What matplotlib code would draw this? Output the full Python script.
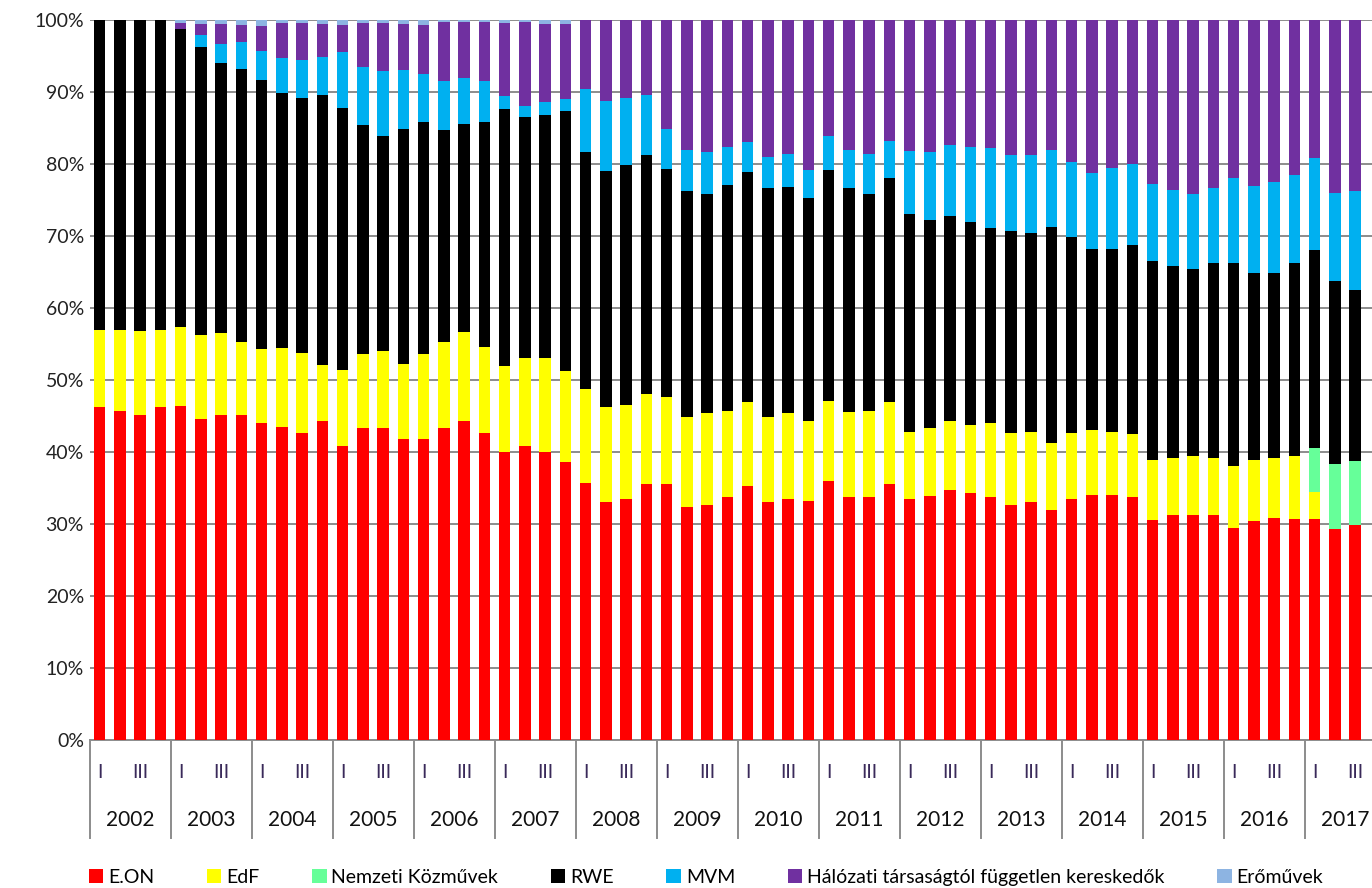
# Stacked 100% bar chart - quarterly market shares (2002 - 2017)

import matplotlib
matplotlib.use("Agg")
import matplotlib.pyplot as plt
import numpy as np
from matplotlib.patches import Patch

plt.rcParams['font.family'] = ['Lato', 'DejaVu Sans']

# years on the category axis (2017 only has three quarters of data)
years = ["2002", "2003", "2004", "2005", "2006", "2007", "2008", "2009",
         "2010", "2011", "2012", "2013", "2014", "2015", "2016", "2017"]
quarter_labels = ["I", "", "III", ""]

# shares in %, one value per quarter, 2002 Q1 ... 2017 Q3
eon = [46.2, 45.7, 45.1, 46.3, 46.4, 44.6, 45.1, 45.1, 44.0, 43.5, 42.6, 44.3,
       40.9, 43.3, 43.4, 41.8, 41.8, 43.4, 44.3, 42.6, 40.0, 40.9, 40.0, 38.6,
       35.7, 33.1, 33.5, 35.6, 35.6, 32.3, 32.6, 33.8, 35.3, 33.1, 33.5, 33.2,
       36.0, 33.8, 33.8, 35.5, 33.5, 33.9, 34.7, 34.3, 33.7, 32.6, 33.0, 31.9,
       33.5, 34.0, 34.0, 33.8, 30.6, 31.3, 31.3, 31.3, 29.4, 30.4, 30.9, 30.7,
       30.7, 29.3, 29.8]
edf = [10.8, 11.3, 11.7, 10.7, 10.9, 11.7, 11.4, 10.2, 10.3, 10.9, 11.2, 7.8,
       10.5, 10.3, 10.6, 10.4, 11.8, 11.9, 12.4, 12.0, 12.0, 12.2, 13.0, 12.6,
       13.1, 13.2, 13.0, 12.4, 12.1, 12.5, 12.8, 11.9, 11.7, 11.8, 11.9, 11.1,
       11.1, 11.8, 11.9, 11.5, 9.3, 9.4, 9.6, 9.4, 10.3, 10.0, 9.8, 9.4,
       9.2, 9.1, 8.8, 8.7, 8.3, 7.9, 8.1, 7.9, 8.7, 8.5, 8.3, 8.8,
       3.7, 0.0, 0.0]
nemzeti = [0, 0, 0, 0, 0, 0, 0, 0, 0, 0, 0, 0,
           0, 0, 0, 0, 0, 0, 0, 0, 0, 0, 0, 0,
           0, 0, 0, 0, 0, 0, 0, 0, 0, 0, 0, 0,
           0, 0, 0, 0, 0, 0, 0, 0, 0, 0, 0, 0,
           0, 0, 0, 0, 0, 0, 0, 0, 0, 0, 0, 0,
           6.1, 9.0, 8.9]
rwe = [43.0, 43.0, 43.2, 43.0, 41.5, 39.9, 37.5, 37.9, 37.3, 35.4, 35.3, 37.5,
       36.4, 31.8, 29.9, 32.7, 32.2, 29.4, 28.9, 31.2, 35.6, 33.4, 33.8, 36.2,
       32.8, 32.7, 33.4, 33.3, 31.6, 31.5, 30.5, 31.4, 31.9, 31.8, 31.4, 31.0,
       32.1, 31.1, 30.2, 31.0, 30.3, 28.9, 28.5, 28.2, 27.1, 28.1, 27.6, 30.0,
       27.1, 25.1, 25.4, 26.3, 27.6, 26.7, 26.0, 27.0, 28.1, 25.9, 25.6, 26.7,
       27.6, 25.4, 23.8]
mvm = [0, 0, 0, 0, 0, 1.7, 2.7, 3.7, 4.1, 4.9, 5.4, 5.3,
       7.7, 8.1, 9.0, 8.2, 6.7, 6.8, 6.3, 5.7, 1.8, 1.6, 1.8, 1.6,
       8.8, 9.8, 9.2, 8.3, 5.6, 5.6, 5.8, 5.3, 4.1, 4.3, 4.6, 3.9,
       4.7, 5.3, 5.5, 5.2, 8.7, 9.4, 9.8, 10.5, 11.1, 10.6, 10.8, 10.7,
       10.5, 10.5, 11.3, 11.2, 10.7, 10.5, 10.4, 10.4, 11.8, 12.1, 12.7, 12.3,
       12.8, 12.3, 13.8]
halozati = [0, 0, 0, 0, 0.8, 1.6, 2.7, 2.4, 3.5, 4.9, 5.1, 4.5,
            3.8, 6.1, 6.7, 6.4, 6.8, 8.2, 7.8, 8.2, 10.2, 11.6, 10.9, 10.5,
            9.6, 11.2, 10.9, 10.4, 15.1, 18.1, 18.3, 17.6, 17.0, 19.0, 18.6, 20.8,
            16.1, 18.0, 18.6, 16.8, 18.2, 18.4, 17.4, 17.6, 17.8, 18.7, 18.8, 18.0,
            19.7, 21.3, 20.5, 20.0, 22.8, 23.6, 24.2, 23.4, 22.0, 23.1, 22.5, 21.5,
            19.1, 24.0, 23.7]
eromuvek = [0, 0, 0, 0, 0.4, 0.5, 0.6, 0.7, 0.8, 0.4, 0.4, 0.6,
            0.7, 0.4, 0.4, 0.5, 0.7, 0.3, 0.3, 0.3, 0.4, 0.3, 0.5, 0.5,
            0, 0, 0, 0, 0, 0, 0, 0, 0, 0, 0, 0,
            0, 0, 0, 0, 0, 0, 0, 0, 0, 0, 0, 0,
            0, 0, 0, 0, 0, 0, 0, 0, 0, 0, 0, 0,
            0, 0, 0]

series = [
    ("E.ON", eon, "#FF0000"),
    ("EdF", edf, "#FFFF00"),
    ("Nemzeti Közművek", nemzeti, "#66FF99"),
    ("RWE", rwe, "#000000"),
    ("MVM", mvm, "#00B0F0"),
    ("Hálózati társaságtól független kereskedők", halozati, "#7030A0"),
    ("Erőművek", eromuvek, "#8DB4E2"),
]

n = len(eon)
x = np.arange(n)
slots = len(years) * 4  # the axis has room for 2017 Q4 as well

# figure 1372 x 888 px
fig = plt.figure(figsize=(13.72, 8.88), dpi=100)
# plot area in pixels: left 89.5, width 64 slots of 20.25 px, 0% at y=740, 100% at y=20
ax = fig.add_axes([89.5 / 1372, 148 / 888, 1296 / 1372, 720 / 888])

# normalise to 100% and stack
total = np.zeros(n)
for name, vals, col in series:
    total += np.array(vals, dtype=float)
bottom = np.zeros(n)
for name, vals, col in series:
    v = np.array(vals, dtype=float) / total * 100
    ax.bar(x, v, bottom=bottom, width=0.57, color=col, linewidth=0, zorder=3)
    bottom += v

ax.set_xlim(-0.5, slots - 0.5)
ax.set_ylim(0, 100)
ax.set_yticks(np.arange(0, 101, 10))
ax.set_yticklabels([str(t) + "%" for t in range(0, 101, 10)], fontsize=14, color="#222222")
ax.tick_params(axis="y", length=0, pad=4)
ax.set_xticks([])
ax.grid(axis="y", color="#8c8c8c", linewidth=1.4, zorder=0)
for s in ["left", "right", "top"]:
    ax.spines[s].set_visible(False)
ax.spines["bottom"].set_color("#8c8c8c")
ax.spines["bottom"].set_linewidth(1.4)

# two-level category axis: quarters + years, with separators
trans = ax.get_xaxis_transform()
for i in range(len(years)):
    start = i * 4
    ax.plot([start - 0.5, start - 0.5], [0, -98 / 720], transform=trans,
            color="#8c8c8c", linewidth=1.4, clip_on=False)
    for q in range(4):
        if quarter_labels[q] != "" and start + q < n:
            ax.text(start + q, -32 / 720, quarter_labels[q], transform=trans,
                    ha="center", va="center", fontsize=14, color="#3a2a5a")
    ax.text(start + 1.5, -80 / 720, years[i], transform=trans,
            ha="center", va="center", fontsize=15, color="#111111")

# legend along the bottom
handles = [Patch(facecolor=col, edgecolor="none", label=name) for name, vals, col in series]
fig.legend(handles=handles, loc="center", bbox_to_anchor=(706 / 1372, 11 / 888), ncol=7,
           frameon=False, fontsize=14, handlelength=0.75, handleheight=0.75,
           handletextpad=0.25, columnspacing=2.7, borderpad=0)

fig.savefig("out.png", dpi=100)
